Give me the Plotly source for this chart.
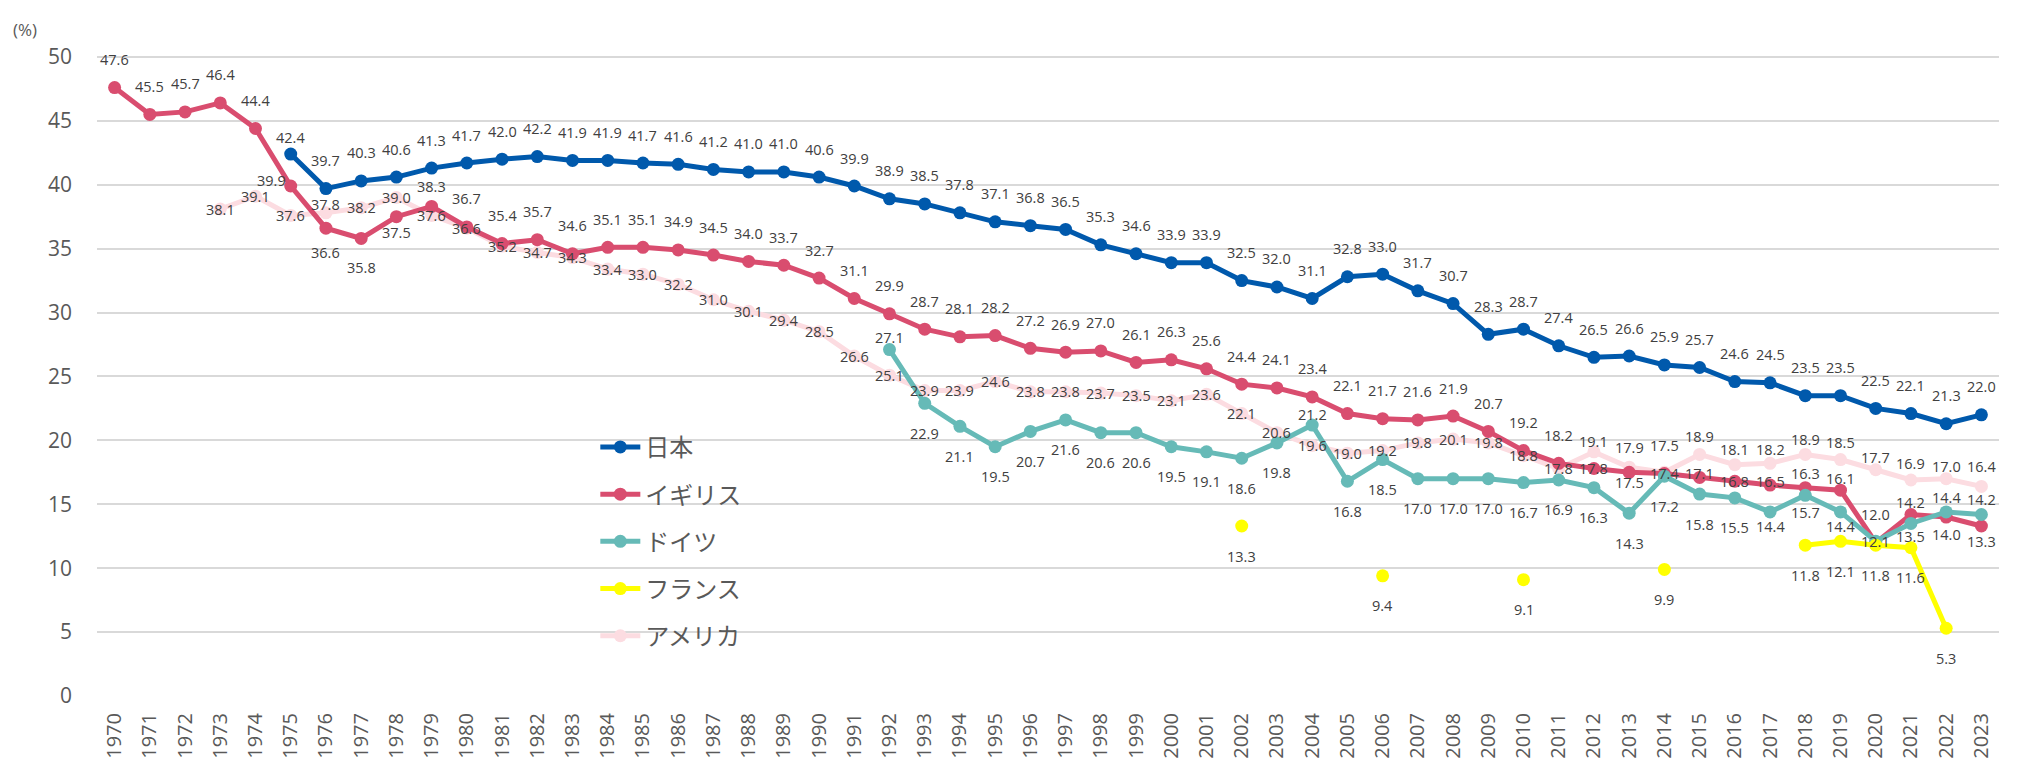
import plotly.graph_objects as go

years = [1970, 1971, 1972, 1973, 1974, 1975, 1976, 1977, 1978, 1979,
         1980, 1981, 1982, 1983, 1984, 1985, 1986, 1987, 1988, 1989,
         1990, 1991, 1992, 1993, 1994, 1995, 1996, 1997, 1998, 1999,
         2000, 2001, 2002, 2003, 2004, 2005, 2006, 2007, 2008, 2009,
         2010, 2011, 2012, 2013, 2014, 2015, 2016, 2017, 2018, 2019,
         2020, 2021, 2022, 2023]

japan = [None, None, None, None, None,
         42.4, 39.7, 40.3, 40.6, 41.3,
         41.7, 42.0, 42.2, 41.9, 41.9, 41.7, 41.6, 41.2, 41.0, 41.0,
         40.6, 39.9, 38.9, 38.5, 37.8, 37.1, 36.8, 36.5, 35.3, 34.6,
         33.9, 33.9, 32.5, 32.0, 31.1, 32.8, 33.0, 31.7, 30.7, 28.3,
         28.7, 27.4, 26.5, 26.6, 25.9, 25.7, 24.6, 24.5, 23.5, 23.5,
         22.5, 22.1, 21.3, 22.0]

uk = [47.6, 45.5, 45.7, 46.4, 44.4, 39.9, 36.6, 35.8, 37.5, 38.3,
      36.7, 35.4, 35.7, 34.6, 35.1, 35.1, 34.9, 34.5, 34.0, 33.7,
      32.7, 31.1, 29.9, 28.7, 28.1, 28.2, 27.2, 26.9, 27.0, 26.1,
      26.3, 25.6, 24.4, 24.1, 23.4, 22.1, 21.7, 21.6, 21.9, 20.7,
      19.2, 18.2, 17.8, 17.5, 17.4, 17.1, 16.8, 16.5, 16.3, 16.1,
      12.0, 14.2, 14.0, 13.3]

germany = [None] * 22 + [
      27.1, 22.9, 21.1, 19.5, 20.7, 21.6, 20.6, 20.6,
      19.5, 19.1, 18.6, 19.8, 21.2, 16.8, 18.5, 17.0, 17.0, 17.0,
      16.7, 16.9, 16.3, 14.3, 17.2, 15.8, 15.5, 14.4, 15.7, 14.4,
      12.1, 13.5, 14.4, 14.2]

france = [None] * 32 + [
      13.3, None, None, None, 9.4, None, None, None,
      9.1, None, None, None, 9.9, None, None, None, 11.8, 12.1,
      11.8, 11.6, 5.3, None]

usa = [None, None, None, 38.1, 39.1, 37.6, 37.8, 38.2, 39.0, 37.6,
       36.6, 35.2, 34.7, 34.3, 33.4, 33.0, 32.2, 31.0, 30.1, 29.4,
       28.5, 26.6, 25.1, 23.9, 23.9, 24.6, 23.8, 23.8, 23.7, 23.5,
       23.1, 23.6, 22.1, 20.6, 19.6, 19.0, 19.2, 19.8, 20.1, 19.8,
       18.8, 17.8, 19.1, 17.9, 17.5, 18.9, 18.1, 18.2, 18.9, 18.5,
       17.7, 16.9, 17.0, 16.4]

names = ["日本", "イギリス", "ドイツ", "フランス", "アメリカ"]
series = [japan, uk, germany, france, usa]

# ---- styling (kept separate from data) ----
colors = ["#0059AC", "#D94D6F", "#66BAB7", "#FFFF00", "#FCDCE1"]
default_shift = [28, 28, -30, -30, 0]
label_shift = {
    0: {1975: (0, 17)},
    1: {1975: (-19, 6), 1976: (0, -24), 1977: (0, -29), 1978: (0, -16),
        1979: (0, 20), 2012: (0, 0), 2013: (0, -10), 2014: (0, 0),
        2015: (0, 4), 2016: (0, 0), 2017: (0, 4), 2018: (0, 14),
        2019: (0, 12), 2021: (0, 12), 2022: (0, -17), 2023: (0, -15)},
    2: {1992: (0, 12), 2004: (0, 11), 2017: (0, -15), 2018: (0, -17),
        2019: (0, -15), 2020: (0, 0), 2021: (0, -13), 2022: (0, 14),
        2023: (0, 15)},
    3: {},
    4: {1976: (0, 8), 2012: (0, 10), 2013: (0, 20), 2014: (0, 27),
        2015: (0, 18), 2016: (0, 15), 2017: (0, 14), 2018: (0, 15),
        2019: (0, 17), 2020: (0, 12), 2021: (0, 16), 2022: (0, 12),
        2023: (0, 20)},
}

FONT = "Open Sans, Noto Sans CJK JP, sans-serif"

fig = go.Figure()
draw_order = [4, 0, 1, 2, 3]
for i in draw_order:
    fig.add_trace(go.Scatter(
        x=years, y=series[i], name=names[i], mode="lines+markers",
        line=dict(color=colors[i], width=5),
        marker=dict(color=colors[i], size=13),
        connectgaps=False, legendgroup=names[i], legendrank=i + 1,
        hoverinfo="x+y+name", cliponaxis=False,
    ))

annotations = []
for i, vals in enumerate(series):
    for yr, v in zip(years, vals):
        if v is None:
            continue
        dx, dy = label_shift[i].get(yr, (0, default_shift[i]))
        annotations.append(dict(
            x=yr, y=v, xref="x", yref="y", text=f"{v:.1f}", showarrow=False,
            xshift=dx, yshift=dy, font=dict(size=14.5, color="#404040", family=FONT),
        ))

annotations.append(dict(
    xref="paper", yref="paper", x=-0.045, y=1.04, xanchor="left", yanchor="middle",
    text="(%)", showarrow=False, font=dict(size=17, color="#595959", family=FONT),
))

fig.update_layout(
    width=2024, height=763,
    margin=dict(l=89, r=33, t=47, b=67),
    paper_bgcolor="white", plot_bgcolor="white",
    font=dict(family=FONT, color="#595959"),
    showlegend=True,
    legend=dict(
        x=0.262, y=0.423, xanchor="left", yanchor="top",
        bgcolor="rgba(0,0,0,0)", font=dict(size=24, color="#595959", family=FONT),
        tracegroupgap=13, itemwidth=40,
    ),
    annotations=annotations,
)
fig.update_xaxes(
    type="linear", range=[1969.5, 2023.5], tickmode="array", tickvals=years,
    ticktext=[str(y) for y in years], tickangle=-90, showgrid=False,
    showline=False, ticks="", zeroline=False,
    tickfont=dict(size=20, color="#595959", family=FONT), ticklabelstandoff=12,
)
fig.update_yaxes(
    range=[0, 50.15], tickmode="array", tickvals=[0, 5, 10, 15, 20, 25, 30, 35, 40, 45, 50],
    showgrid=True, gridcolor="#D9D9D9", gridwidth=2,
    zeroline=False, showline=False, ticks="",
    tickfont=dict(size=21, color="#595959", family=FONT), ticklabelstandoff=24,
)

fig.write_html("out.html")
